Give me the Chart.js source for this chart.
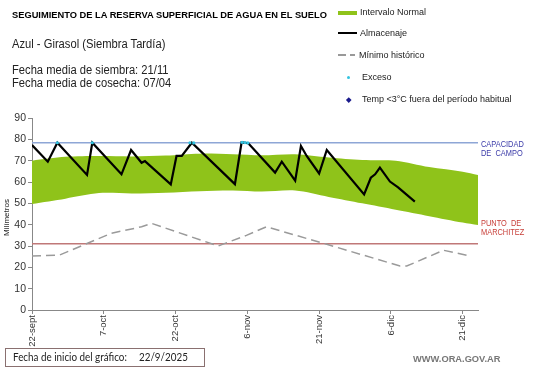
<!DOCTYPE html>
<html><head><meta charset="utf-8">
<script src="https://cdn.jsdelivr.net/npm/chart.js@4"></script>
<style>
html,body{margin:0;padding:0;background:#fff;}
#wrap{position:relative;width:541px;height:368px;overflow:hidden;font-family:"Liberation Sans",Arial,sans-serif;}
canvas{position:absolute;left:0;top:0;}
.t{position:absolute;white-space:nowrap;color:#000;}
.sx{transform:scaleX(0.895);transform-origin:0 0;}
.lg{font-size:9px;color:#222;}
</style></head><body>
<div id="wrap">
<canvas id="c" width="541" height="368"></canvas>
<div class="t" style="left:12px;top:10px;font-size:9.3px;font-weight:bold;">SEGUIMIENTO DE LA RESERVA SUPERFICIAL DE AGUA EN EL SUELO</div>
<div class="t sx" style="left:12px;top:37px;font-size:12.5px;color:#222;">Azul - Girasol (Siembra Tardía)</div>
<div class="t sx" style="left:12px;top:64px;font-size:12.5px;line-height:13px;color:#222;">Fecha media de siembra: 21/11<br>Fecha media de cosecha: 07/04</div>
<div class="t" style="left:338px;top:11px;width:19px;height:4px;background:#8fc31a;"></div>
<div class="t lg" style="left:360px;top:6.5px;">Intervalo Normal</div>
<div class="t" style="left:338px;top:32px;width:19px;height:2px;background:#000;"></div>
<div class="t lg" style="left:360px;top:28px;">Almacenaje</div>
<div class="t" style="left:338px;top:54px;width:8px;height:1.5px;background:#999;"></div>
<div class="t" style="left:350px;top:54px;width:5px;height:1.5px;background:#999;"></div>
<div class="t lg" style="left:359px;top:50px;">Mínimo histórico</div>
<div class="t" style="left:347px;top:76px;width:3px;height:3px;background:#33c3e0;border-radius:50%;"></div>
<div class="t lg" style="left:362px;top:72px;">Exceso</div>
<div class="t" style="left:346.5px;top:97.5px;width:3.5px;height:3.5px;background:#1a1a8c;transform:rotate(45deg);"></div>
<div class="t lg" style="left:362px;top:94px;">Temp &lt;3°C fuera del período habitual</div>
<div class="t sx" style="left:481px;top:140px;font-size:8.3px;line-height:9.3px;color:#3a3aa8;">CAPACIDAD<br>DE&nbsp; CAMPO</div>
<div class="t sx" style="left:481px;top:219px;font-size:8.3px;line-height:9.3px;color:#c8403a;">PUNTO&nbsp; DE<br>MARCHITEZ</div>
<div class="t" style="left:2px;top:236px;font-size:8px;color:#222;transform:rotate(-90deg);transform-origin:0 0;">Milímetros</div>
<div class="t" style="left:5px;top:348px;width:200px;height:19px;border:1px solid #8a7070;box-sizing:border-box;"></div>
<div class="t sx" style="left:12.5px;top:350px;font-size:11px;font-family:Lato,'Open Sans',sans-serif;color:#222;">Fecha de inicio del gráfico:</div>
<div class="t sx" style="left:139px;top:350px;font-size:11px;font-family:Lato,'Open Sans',sans-serif;color:#222;">22/9/2025</div>
<div class="t" style="left:413px;top:354px;font-size:9.3px;font-weight:bold;color:#777;">WWW.ORA.GOV.AR</div>
</div>
<script>
const tickDays = [0, 15, 30, 45, 60, 75, 90];
const tickLabels = ["22-sept", "7-oct", "22-oct", "6-nov", "21-nov", "6-dic", "21-dic"];

const bandDays  = [0, 7, 14, 21, 28, 35, 42, 48, 55, 62, 69, 76, 83, 90, 93.2];
const bandUpper = [70, 71.8, 72.2, 72, 72.4, 73.3, 73, 72.5, 73, 71.5, 70.3, 70, 67, 64.8, 63.3];
const bandLower = [49.7, 52.2, 54.8, 54.6, 55, 55.7, 56, 55.5, 56, 53, 50, 47, 44, 41, 39.8];

const almDays   = [0, 3.3, 5.3, 11.5, 12.6, 18.7, 20.7, 22.9, 23.6, 29, 30.2, 31.3, 33.4, 42.4, 43.8, 45.2, 50.8, 52.2, 55, 56.2, 57.4, 60, 61.6, 69.4, 70.8, 71.7, 72.7, 74.8, 76.5, 80];
const almValues = [77.3, 69.5, 78.4, 63.3, 78.4, 63.6, 75, 69, 69.8, 58.9, 72.2, 72.2, 78.4, 59, 78.6, 78.2, 64.4, 69.5, 60.6, 76.9, 72.2, 64, 75, 54.2, 62, 63.6, 66.7, 60.2, 57.5, 50.8];

const minDays   = [0, 5.8, 16.6, 22.9, 25, 38.9, 44.8, 49, 61.6, 76.9, 78.3, 86, 91];
const minValues = [25.3, 25.8, 36, 39, 40.6, 30, 35, 39, 30.8, 20.6, 20.6, 28, 25.6];

const excesoDays   = [5.3, 12.6, 33.0, 33.8, 43.9, 44.5, 45.1];
const excesoValues = [78.4, 78.4, 78.4, 78.3, 78.6, 78.5, 78.3];

const capacidadCampo = 78.4;
const puntoMarchitez = 31;
const xEnd = 93.2;

const pts = (xs, ys) => xs.map((x, i) => ({x: x, y: ys[i]}));

new Chart(document.getElementById('c'), {
  type: 'line',
  data: {
    datasets: [
      {data: pts(bandDays, bandUpper), borderWidth: 0, pointRadius: 0, fill: '+1', backgroundColor: '#8fc31a', tension: 0.3, order: 5},
      {data: pts(bandDays, bandLower), borderWidth: 0, pointRadius: 0, fill: false, tension: 0.3, order: 5},
      {data: pts([0, xEnd], [capacidadCampo, capacidadCampo]), borderColor: '#8ea6d6', borderWidth: 1.5, pointRadius: 0, fill: false, order: 4},
      {data: pts([0, xEnd], [puntoMarchitez, puntoMarchitez]), borderColor: '#c07878', borderWidth: 1.5, pointRadius: 0, fill: false, order: 4},
      {data: pts(minDays, minValues), borderColor: '#9a9a9a', borderWidth: 1.5, borderDash: [9, 5], pointRadius: 0, fill: false, order: 3},
      {data: pts(almDays, almValues), borderColor: '#000', borderWidth: 2.2, pointRadius: 0, fill: false, order: 2},
      {data: pts(excesoDays, excesoValues), showLine: false, pointRadius: 1.6, pointBackgroundColor: '#33c3e0', pointBorderWidth: 0, order: 1}
    ]
  },
  options: {
    responsive: false,
    animation: false,
    events: [],
    layout: {padding: {left: 0, right: 63, top: 118, bottom: 10}},
    plugins: {legend: {display: false}, tooltip: {enabled: false}},
    scales: {
      x: {
        type: 'linear', min: 0, max: xEnd,
        afterBuildTicks: s => { s.ticks = tickDays.map(v => ({value: v})); },
        afterFit: s => { s.height = 48; },
        grid: {drawOnChartArea: false, drawTicks: true, tickLength: 4, color: '#888'},
        border: {color: '#888', width: 1},
        ticks: {
          minRotation: 90, maxRotation: 90, autoSkip: false, padding: 1,
          color: '#333', font: {family: 'Liberation Sans', size: 9.5},
          callback: (v) => { const i = tickDays.indexOf(v); return i >= 0 ? tickLabels[i] : ''; }
        }
      },
      y: {
        min: 0, max: 90,
        afterFit: s => { s.width = 32; },
        grid: {drawOnChartArea: false, drawTicks: true, tickLength: 4, color: '#888'},
        border: {color: '#888', width: 1},
        ticks: {stepSize: 10, padding: 2, color: '#333', font: {family: 'Liberation Sans', size: 10.5}}
      }
    }
  }
});
</script>
</body></html>
